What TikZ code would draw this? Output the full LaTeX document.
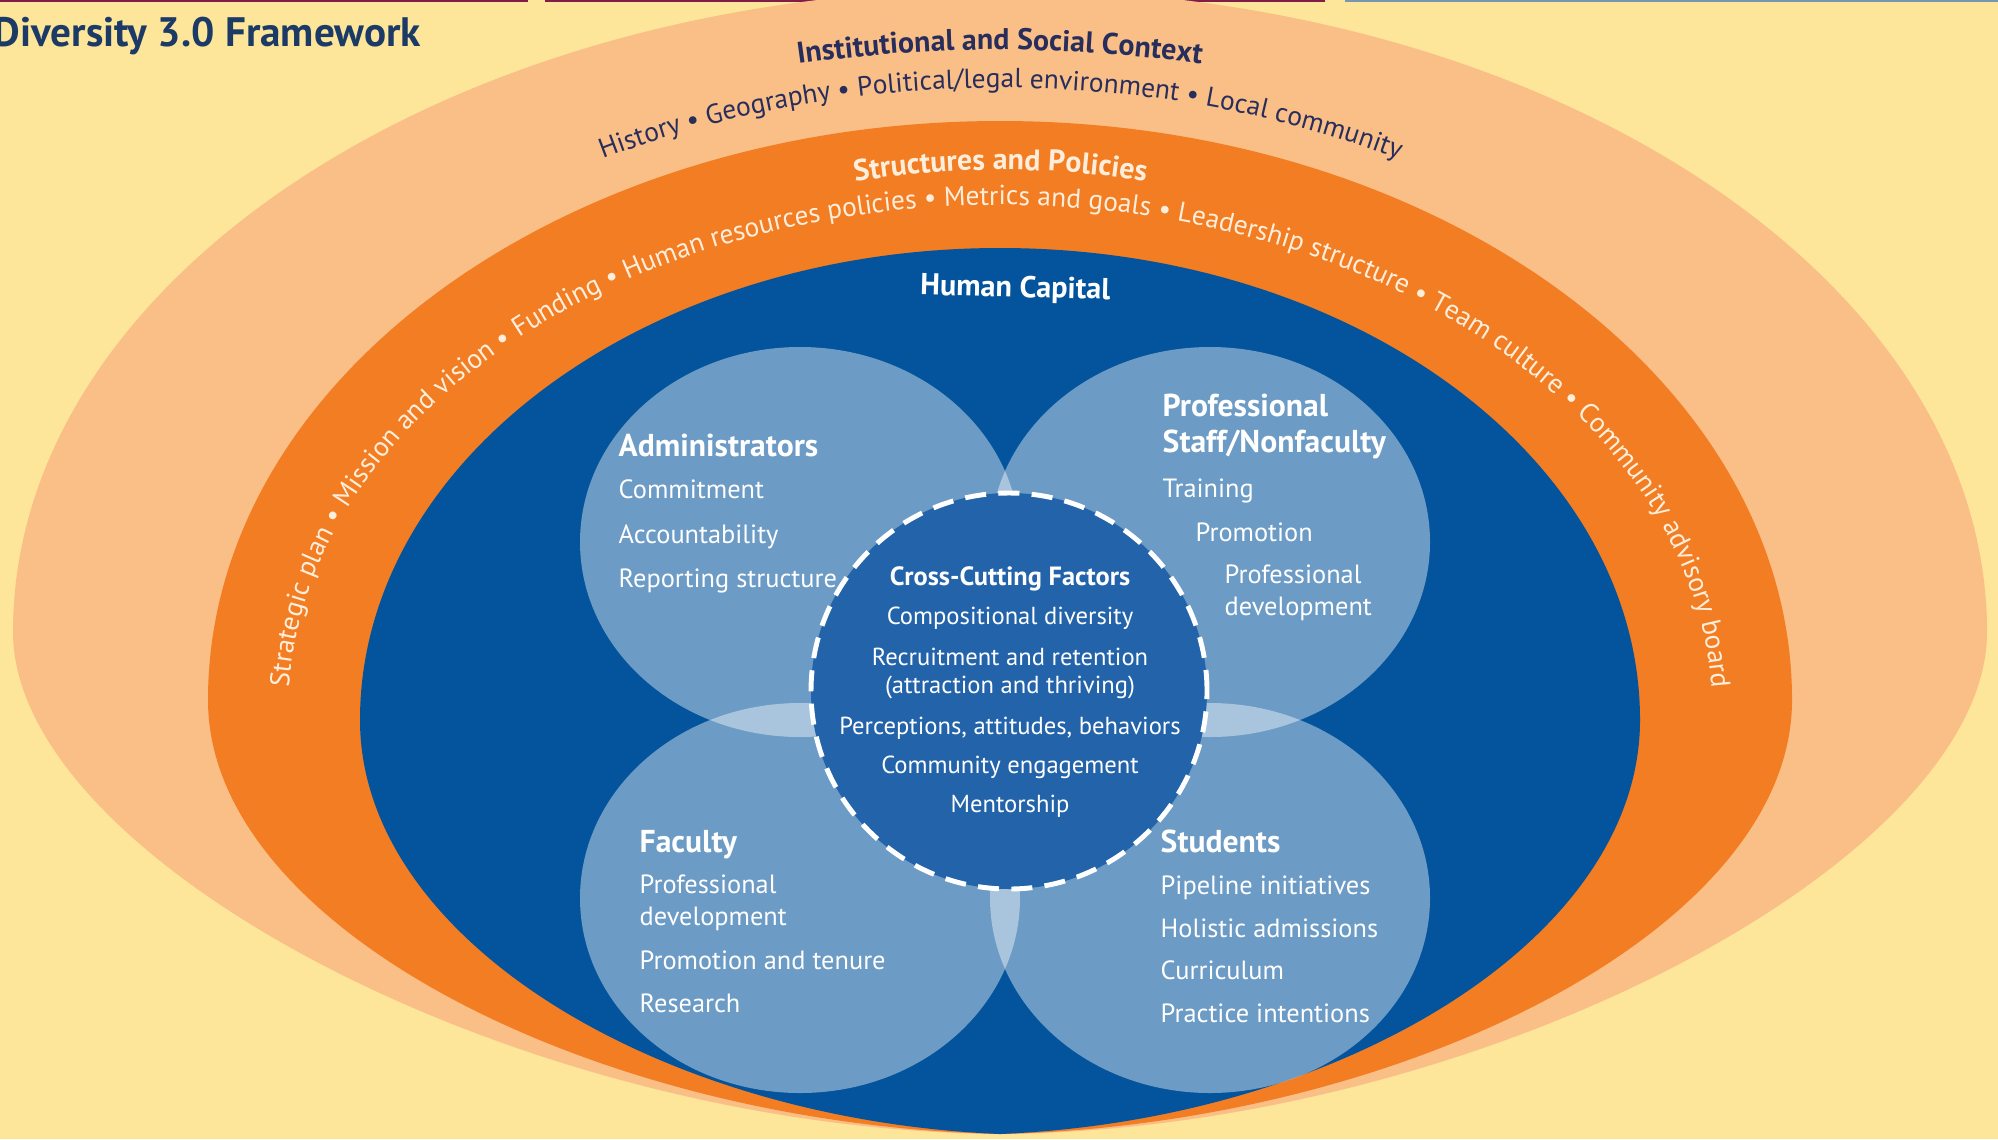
\documentclass[tikz,border=0pt]{standalone}
\usepackage{fontspec}
\setmainfont{PT Sans}
\usetikzlibrary{decorations.text}

\definecolor{paleyellow}{RGB}{253,229,154}
\definecolor{peach}{RGB}{250,190,135}
\definecolor{ringorange}{RGB}{242,125,34}
\definecolor{capblue}{RGB}{3,84,156}
\definecolor{crossblue}{RGB}{34,99,170}
\definecolor{titleblue}{RGB}{27,58,102}
\definecolor{ctxnavy}{RGB}{40,46,92}
\definecolor{cream}{RGB}{255,238,220}
\definecolor{edgemaroon}{RGB}{128,30,72}
\definecolor{edgegrey}{RGB}{120,150,175}

\tikzset{
  grouphead/.style={anchor=base west, text=white, font=\fontsize{9}{11}\selectfont\bfseries, inner sep=0pt},
  groupitem/.style={anchor=base west, text=white, font=\fontsize{7.5}{9}\selectfont, inner sep=0pt},
  crossitem/.style={anchor=base, text=white, font=\fontsize{7}{8}\selectfont, inner sep=0pt},
  petal/.style={fill=white, fill opacity=0.42},
}

\begin{document}
\begin{tikzpicture}[x=0.01cm, y=0.01cm]
	\useasboundingbox (0,0) rectangle (1998,-1139);
	\fill[paleyellow] (0,0) rectangle (1998,-1139);
	\draw[edgemaroon, line width=0.6pt] (0,-1) -- (528,-1);
	\draw[edgemaroon, line width=0.6pt] (545,-1) -- (1325,-1);
	\draw[edgegrey, line width=0.6pt] (1345,-1) -- (1998,-1);

	% the three nested rings
	\fill[peach] (13,-632) arc[start angle=180, end angle=0, x radius=987, y radius=643]
		.. controls (1987,-860) and (1480,-1130) .. (1000,-1134)
		.. controls (520,-1130) and (13,-860) .. (13,-632) -- cycle;
	\fill[ringorange] (208,-700) arc[start angle=180, end angle=0, x radius=792, y radius=579]
		.. controls (1792,-930) and (1400,-1125) .. (1000,-1134)
		.. controls (600,-1125) and (208,-930) .. (208,-700) -- cycle;
	\fill[capblue] (360,-720) arc[start angle=180, end angle=0, x radius=640, y radius=472]
		.. controls (1640,-940) and (1340,-1120) .. (1000,-1134)
		.. controls (660,-1120) and (360,-940) .. (360,-720) -- cycle;

	% four groups
	\fill[petal] (800,-542) ellipse[x radius=220, y radius=195];
	\fill[petal] (1210,-542) ellipse[x radius=220, y radius=195];
	\fill[petal] (800,-898) ellipse[x radius=220, y radius=195];
	\fill[petal] (1210,-898) ellipse[x radius=220, y radius=195];
	\filldraw[fill=crossblue, draw=white, line width=1.4pt, dash pattern=on 6pt off 3.5pt] (1009,-691) circle[radius=198];

	% ring texts
	\path[decorate, decoration={text along path, text align=center,
		text={|\color{ctxnavy}\fontsize{8.5}{10}\selectfont\bfseries|Institutional and Social Context}}]
		(563,-120) arc[start angle=118, end angle=62, x radius=930, y radius=600];
	\path[decorate, decoration={text along path, text align=center,
		text={|\color{ctxnavy}\fontsize{7.8}{9}\selectfont|History • Geography • Political/legal environment • Local community}}]
		(316,-350) arc[start angle=150, end angle=30, x radius=790, y radius=524];
	\path[decorate, decoration={text along path, text align=center,
		text={|\color{cream}\fontsize{8.5}{10}\selectfont\bfseries|Structures and Policies}}]
		(589,-275) arc[start angle=130, end angle=50, x radius=640, y radius=450];
	\path[decorate, decoration={text along path, text align=center,
		text={|\color{cream}\fontsize{7.8}{9}\selectfont|Strategic plan • Mission and vision • Funding • Human resources policies • Metrics and goals • Leadership structure • Team culture • Community advisory board}}]
		(299,-800) arc[start angle=190, end angle=-10, x radius=712, y radius=507];

	\node[anchor=base west, inner sep=0pt, text=titleblue, font=\fontsize{11.7}{13}\selectfont\bfseries] (title) at (-7,-46) {Diversity 3.0 Framework};
	\node[anchor=base, inner sep=0pt, text=white, rotate=-1.5, font=\fontsize{8.6}{10}\selectfont\bfseries] (capital) at (1015,-297) {Human Capital};

	\node[grouphead] (admin) at (618,-456) {Administrators};
	\node[groupitem] (admin1) at (618,-498) {Commitment};
	\node[groupitem] (admin2) at (618,-543) {Accountability};
	\node[groupitem] (admin3) at (618,-587) {Reporting structure};

	\node[grouphead] (staff) at (1162,-416) {Professional};
	\node[grouphead] (staff0) at (1162,-452) {Staff/Nonfaculty};
	\node[groupitem] (staff1) at (1162,-497) {Training};
	\node[groupitem] (staff2) at (1195,-541) {Promotion};
	\node[groupitem] (staff3) at (1224,-583) {Professional};
	\node[groupitem] (staff3b) at (1224,-615) {development};

	\node[grouphead] (faculty) at (639,-852) {Faculty};
	\node[groupitem] (faculty1) at (639,-893) {Professional};
	\node[groupitem] (faculty1b) at (639,-925) {development};
	\node[groupitem] (faculty2) at (639,-969) {Promotion and tenure};
	\node[groupitem] (faculty3) at (639,-1012) {Research};

	\node[grouphead] (students) at (1160,-852) {Students};
	\node[groupitem] (students1) at (1160,-894) {Pipeline initiatives};
	\node[groupitem] (students2) at (1160,-937) {Holistic admissions};
	\node[groupitem] (students3) at (1160,-979) {Curriculum};
	\node[groupitem] (students4) at (1160,-1022) {Practice intentions};

	\node[crossitem, font=\fontsize{7.5}{9}\selectfont\bfseries] (cross) at (1010,-585) {Cross-Cutting Factors};
	\node[crossitem] (cross1) at (1010,-624) {Compositional diversity};
	\node[crossitem] (cross2) at (1010,-665) {Recruitment and retention};
	\node[crossitem] (cross2b) at (1010,-693) {(attraction and thriving)};
	\node[crossitem] (cross3) at (1010,-734) {Perceptions, attitudes, behaviors};
	\node[crossitem] (cross4) at (1010,-773) {Community engagement};
	\node[crossitem] (cross5) at (1010,-812) {Mentorship};
\end{tikzpicture}
\end{document}
